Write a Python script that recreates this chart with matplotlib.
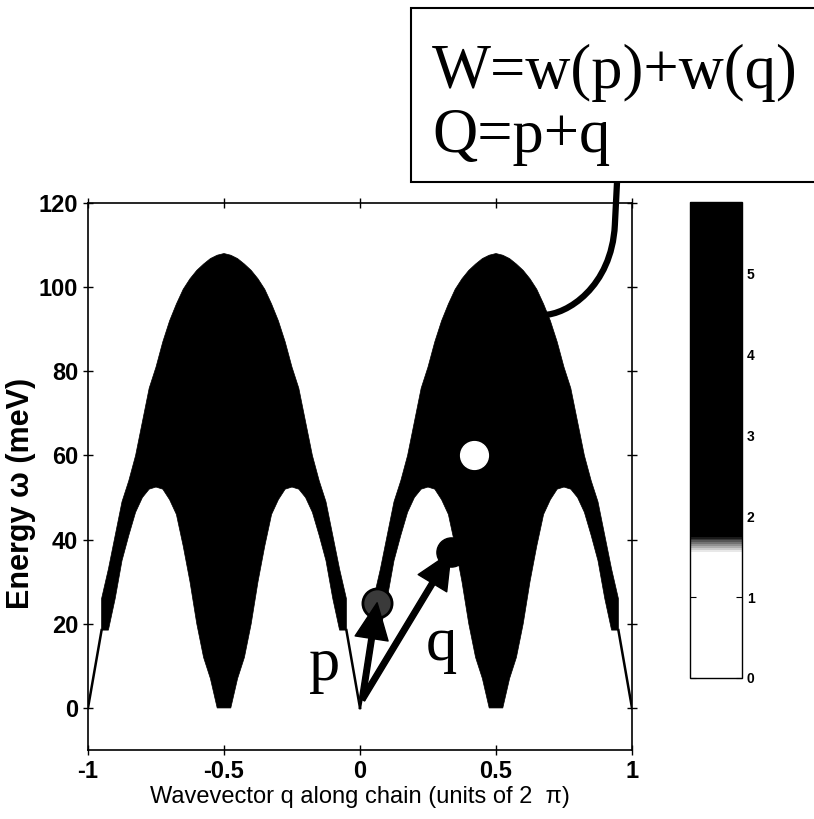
import numpy as np
import matplotlib
matplotlib.use('Agg')
import matplotlib.pyplot as plt
from matplotlib.colors import LinearSegmentedColormap, Normalize
from matplotlib.cm import ScalarMappable
from matplotlib.patches import Rectangle, PathPatch
from matplotlib.path import Path

plt.rcParams['font.family'] = ['Liberation Sans', 'DejaVu Sans']
plt.rcParams['axes.unicode_minus'] = False

# continuum edges, half period q = 0 .. 0.5 (step 0.025)
q_half = [0.0, 0.025, 0.05, 0.075, 0.1, 0.125, 0.15, 0.175, 0.2, 0.225, 0.25,
          0.275, 0.3, 0.325, 0.35, 0.375, 0.4, 0.425, 0.45, 0.475, 0.5]
e_low = [np.nan, np.nan, 18.5, 18.5, 26, 35, 41, 46.5, 50, 52, 52.5,
         52, 49.5, 46, 38.5, 30, 20, 12, 7, 0, 0]
e_high = [np.nan, np.nan, 26, 33, 41, 49, 54, 60, 68, 76, 81,
          87, 92, 96, 99.5, 102, 104, 105.5, 106.8, 107.6, 108]

# thin lower-boundary lines near q = 0 and q = +-1
line_dq = [0.0, 0.05]
line_e = [0.0, 18.5]

# points and vectors of the sketch
p_tip = (0.063, 25)
q_tip = (0.335, 37)
origin = (0.008, 2)
white_pt = (0.419, 60)

cbar_max = 5.88
cbar_ticks = [0, 1, 2, 3, 4, 5]

# full range -1..1 from the half period (symmetric, period 1)
step = 0.025
q_full = np.arange(-40, 41) * step
fold = np.abs(q_full) % 1.0
fold = np.where(fold > 0.5, 1.0 - fold, fold)
idx = np.rint(fold / step).astype(int)
low_full = np.array(e_low)[idx]
high_full = np.array(e_high)[idx]

fig = plt.figure(figsize=(8.14, 8.19), dpi=100)
ax = fig.add_axes([0.1081, 0.0842, 0.6683, 0.6679])

ok = np.isfinite(low_full)
ax.fill_between(q_full, low_full, high_full, where=ok, color='black', lw=0.5,
                edgecolor='black')

for c, s in [(0, 1), (0, -1), (-1, 1), (1, -1)]:
    ax.plot(c + s * np.array(line_dq), line_e, color='black', lw=1.8)

ax.plot(*white_pt, 'o', ms=20, mfc='white', mec='white', zorder=5)
ax.plot(*q_tip, 'o', ms=21, mfc='black', mec='black', zorder=5)
ax.plot(*p_tip, 'o', ms=21, mfc='#3a3a3a', mec='black', mew=2, zorder=5)

arrow = dict(facecolor='black', edgecolor='black', width=4, headwidth=24,
             headlength=26, shrink=0)
ax.annotate('', xy=p_tip, xytext=origin, arrowprops=arrow, zorder=6)
ax.annotate('', xy=q_tip, xytext=origin, arrowprops=arrow, zorder=6)

ax.text(-0.129, 10.2, 'p', family='Liberation Serif', fontsize=45,
        ha='center', va='center')
ax.text(0.30, 15, 'q', family='Liberation Serif', fontsize=45,
        ha='center', va='center')

# connector from the box down to the dome
verts = [(0.945, 125), (0.937, 114.8), (0.925, 100), (0.76, 93.4), (0.673, 93.4)]
codes = [Path.MOVETO, Path.LINETO, Path.CURVE4, Path.CURVE4, Path.CURVE4]
ax.add_patch(PathPatch(Path(verts, codes), fill=False, lw=4.5,
                       edgecolor='black', clip_on=False, zorder=7))

ax.set_xlim(-1, 1)
ax.set_ylim(-10, 120)
ax.set_xticks([-1, -0.5, 0, 0.5, 1])
ax.set_xticklabels(['-1', '-0.5', '0', '0.5', '1'])
ax.set_yticks([0, 20, 40, 60, 80, 100, 120])
ax.tick_params(direction='inout', length=7, width=1, top=True, right=True,
               labelsize=17)
for lab in ax.get_xticklabels() + ax.get_yticklabels():
    lab.set_fontweight('bold')
for sp in ax.spines.values():
    sp.set_linewidth(1.2)
ax.set_xlabel('Wavevector q along chain (units of 2  π)', fontsize=17,
              labelpad=2)
ax.set_ylabel('Energy ω (meV)', fontsize=22, fontweight='bold')
ax.yaxis.set_label_coords(-0.095, 0.47)

# colour bar
cmap = LinearSegmentedColormap.from_list(
    'bw', [(0, 'white'), (1.55 / cbar_max, 'white'),
           (1.75 / cbar_max, 'black'), (1, 'black')])
cax = fig.add_axes([0.8477, 0.1722, 0.0639, 0.5812])
cb = fig.colorbar(ScalarMappable(norm=Normalize(0, cbar_max), cmap=cmap),
                  cax=cax, ticks=cbar_ticks)
cb.outline.set_linewidth(1)
cax.tick_params(direction='in', length=4, labelsize=10, left=True)
for lab in cax.get_yticklabels():
    lab.set_fontweight('bold')

# formula box at the top
fig.add_artist(Rectangle((411 / 814, (819 - 182) / 819), 420 / 814, 174 / 819,
                         transform=fig.transFigure, facecolor='white',
                         edgecolor='black', lw=1.5, zorder=8))
fig.text(432 / 814, (819 - 88) / 819, 'W=w(p)+w(q)', family='Liberation Serif',
         fontsize=45, va='baseline', zorder=9)
fig.text(432 / 814, (819 - 152) / 819, 'Q=p+q', family='Liberation Serif',
         fontsize=45, va='baseline', zorder=9)

fig.savefig('out.png', dpi=100)
